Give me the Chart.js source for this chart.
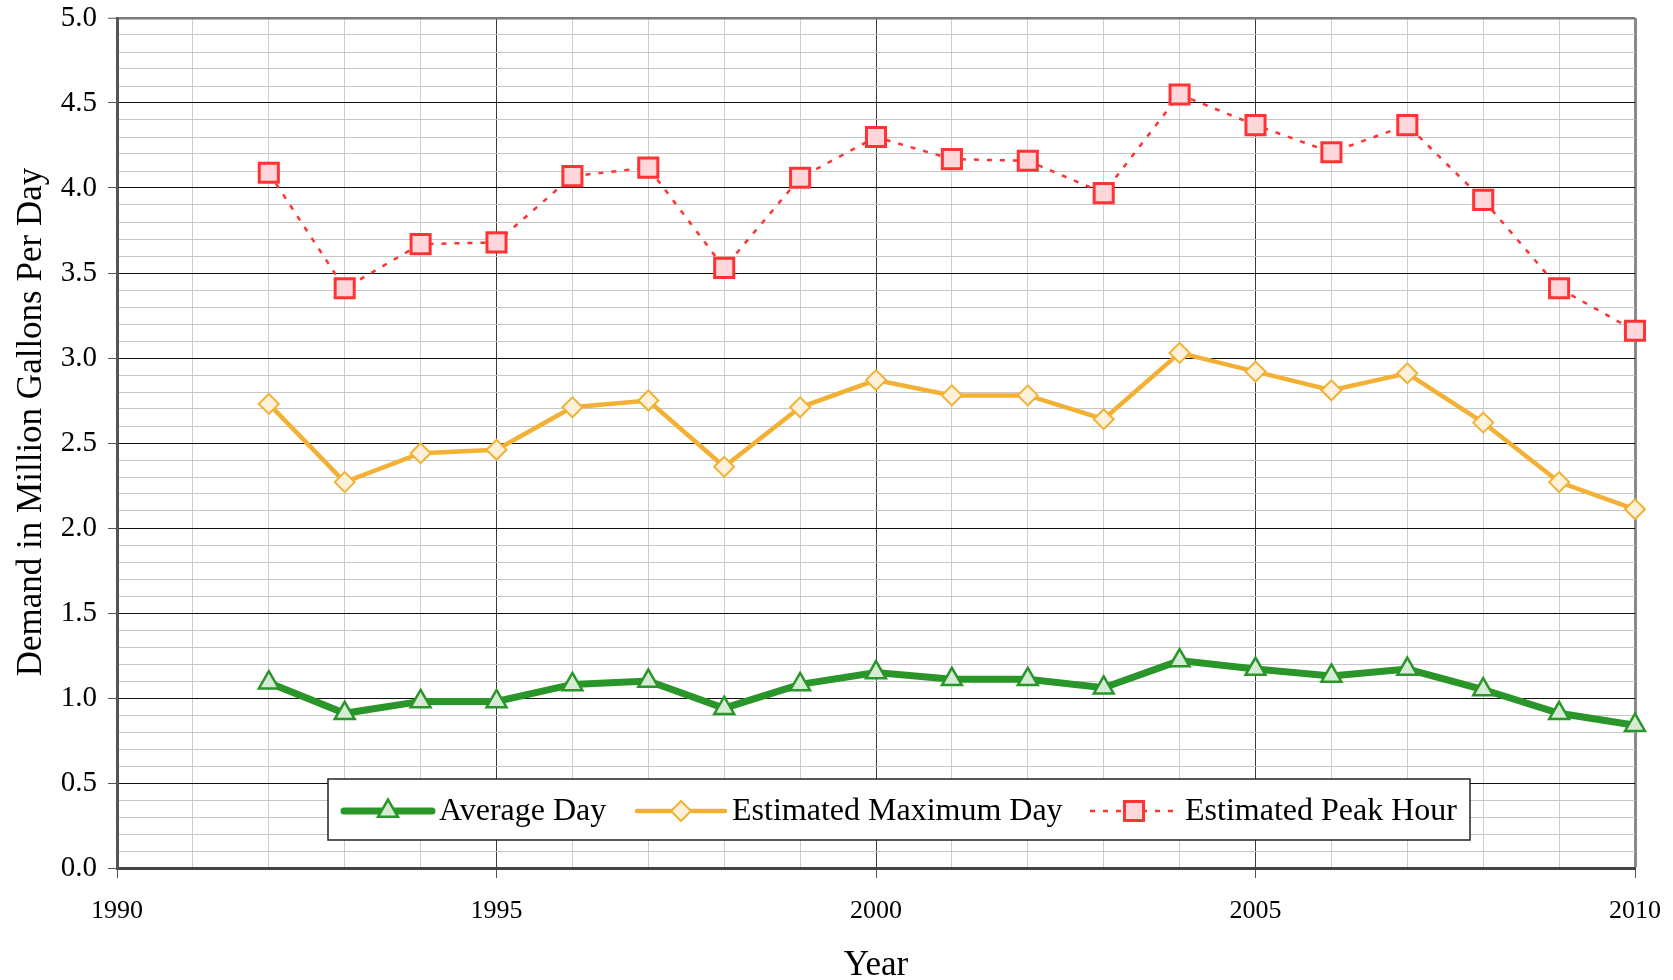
<!DOCTYPE html>
<html>
<head>
<meta charset="utf-8">
<script src="https://cdn.jsdelivr.net/npm/chart.js@4.4.1/dist/chart.umd.min.js"></script>
<style>
  html, body { margin: 0; padding: 0; background: #fff; }
  #wrap { width: 1673px; height: 980px; position: relative; }
</style>
</head>
<body>
<div id="wrap"><canvas id="grafico"></canvas></div>
<script>
// datos (millones de galones por dia)
const years = [1992, 1993, 1994, 1995, 1996, 1997, 1998, 1999, 2000, 2001,
               2002, 2003, 2004, 2005, 2006, 2007, 2008, 2009, 2010];
const averageDay = [1.09, 0.91, 0.98, 0.98, 1.08, 1.10, 0.94, 1.08, 1.15, 1.11,
                    1.11, 1.06, 1.22, 1.17, 1.13, 1.17, 1.05, 0.91, 0.84];
const maxDay = [2.73, 2.27, 2.44, 2.46, 2.71, 2.75, 2.36, 2.71, 2.87, 2.78,
                2.78, 2.64, 3.03, 2.92, 2.81, 2.91, 2.62, 2.27, 2.11];
const peakHour = [4.09, 3.41, 3.67, 3.68, 4.07, 4.12, 3.53, 4.06, 4.30, 4.17,
                  4.16, 3.97, 4.55, 4.37, 4.21, 4.37, 3.93, 3.41, 3.16];
const seriesNames = ['Average Day', 'Estimated Maximum Day', 'Estimated Peak Hour'];
const xTickLabels = [1990, 1995, 2000, 2005, 2010];
const yTickLabels = [0, 0.5, 1, 1.5, 2, 2.5, 3, 3.5, 4, 4.5, 5];
const yTitle = 'Demand in Million Gallons Per Day';

const serif = "'Liberation Serif', 'Times New Roman', serif";
Chart.defaults.font.family = serif;
Chart.defaults.color = '#000';

const isMajorY = v => yTickLabels.some(m => Math.abs(m - v) < 1e-6);
const isMajorX = v => xTickLabels.some(m => Math.abs(m - v) < 1e-6);

function puntos(valores) {
  return years.map((y, i) => ({ x: y, y: valores[i] }));
}

// dibujar un marcador con la misma geometria que Chart.js
function marcador(ctx, estilo, x, y, r) {
  ctx.beginPath();
  if (estilo === 'triangle') {
    ctx.moveTo(x, y - r);
    ctx.lineTo(x + r * 0.866, y + r / 2);
    ctx.lineTo(x - r * 0.866, y + r / 2);
  } else if (estilo === 'rectRot') {
    ctx.moveTo(x, y - r);
    ctx.lineTo(x + r, y);
    ctx.lineTo(x, y + r);
    ctx.lineTo(x - r, y);
  } else {
    const s = r * Math.SQRT1_2;
    ctx.rect(x - s, y - s, 2 * s, 2 * s);
  }
  ctx.closePath();
  ctx.fill();
  ctx.stroke();
}

// titulo del eje Y (un poco por encima del centro, como en el original)
const tituloY = {
  id: 'tituloY',
  afterDraw(chart) {
    const ctx = chart.ctx, area = chart.chartArea;
    ctx.save();
    ctx.translate(32, (area.top + area.bottom) / 2 - 21);
    ctx.rotate(-Math.PI / 2);
    ctx.fillStyle = '#000';
    ctx.font = '35px ' + serif;
    ctx.textAlign = 'center';
    ctx.textBaseline = 'middle';
    ctx.fillText(yTitle, 0, 0);
    ctx.restore();
  }
};

// leyenda dentro del area del grafico, con caja blanca
const leyendaInterna = {
  id: 'leyendaInterna',
  afterDatasetsDraw(chart) {
    const ctx = chart.ctx, area = chart.chartArea;
    const x0 = area.left + 211, y0 = area.bottom - 89, w = 1142, h = 61;
    const itemX = [16, 309, 762];
    const cy = y0 + 32;
    ctx.save();
    ctx.fillStyle = '#fff';
    ctx.fillRect(x0, y0, w, h);
    ctx.strokeStyle = '#222';
    ctx.lineWidth = 1.5;
    ctx.strokeRect(x0, y0, w, h);
    chart.data.datasets.forEach((ds, i) => {
      const lx = x0 + itemX[i];
      const largo = 88;
      ctx.strokeStyle = ds.borderColor;
      ctx.lineWidth = ds.borderWidth;
      ctx.setLineDash(ds.borderDash || []);
      ctx.lineCap = ds.borderDash ? 'butt' : 'round';
      ctx.beginPath();
      ctx.moveTo(lx, cy);
      ctx.lineTo(lx + largo, cy);
      ctx.stroke();
      ctx.setLineDash([]);
      ctx.fillStyle = ds.pointBackgroundColor;
      ctx.strokeStyle = ds.pointBorderColor;
      ctx.lineWidth = ds.pointBorderWidth;
      marcador(ctx, ds.pointStyle, lx + largo / 2, cy, ds.pointRadius);
      ctx.fillStyle = '#000';
      ctx.font = '32px ' + serif;
      ctx.textBaseline = 'middle';
      ctx.textAlign = 'left';
      ctx.fillText(ds.label, lx + largo + 7, cy + 1);
    });
    ctx.restore();
  }
};

const configuracion = {
  type: 'line',
  data: {
    datasets: [
      {
        label: seriesNames[0],
        data: puntos(averageDay),
        borderColor: '#2a962a',
        borderWidth: 7,
        pointStyle: 'triangle',
        pointRadius: 11.5,
        pointBackgroundColor: '#d5ebd5',
        pointBorderColor: '#2a962a',
        pointBorderWidth: 2.5
      },
      {
        label: seriesNames[1],
        data: puntos(maxDay),
        borderColor: '#f2b134',
        borderWidth: 4.5,
        pointStyle: 'rectRot',
        pointRadius: 10,
        pointBackgroundColor: '#fdf1d9',
        pointBorderColor: '#f2b134',
        pointBorderWidth: 2
      },
      {
        label: seriesNames[2],
        data: puntos(peakHour),
        borderColor: '#ff3333',
        borderWidth: 2.5,
        borderDash: [5, 8],
        pointStyle: 'rect',
        pointRadius: 13.5,
        pointBackgroundColor: '#ffd6da',
        pointBorderColor: '#ff3333',
        pointBorderWidth: 3
      }
    ]
  },
  options: {
    responsive: true,
    maintainAspectRatio: false,
    animation: false,
    layout: { padding: { top: 18, right: 38, left: 0, bottom: 0 } },
    elements: { line: { tension: 0 } },
    datasets: { line: { clip: false } },
    plugins: {
      legend: { display: false },
      tooltip: { enabled: false }
    },
    scales: {
      x: {
        type: 'linear',
        min: 1990,
        max: 2010,
        ticks: {
          stepSize: 1,
          autoSkip: false,
          maxRotation: 0,
          padding: 18,
          font: { size: 26 },
          callback: v => isMajorX(v) ? String(Math.round(v)) : ''
        },
        grid: {
          tickLength: 10,
          color: c => {
            const v = c.tick.value;
            if (Math.abs(v - 2010) < 1e-6) return '#8a8a8a';
            return isMajorX(v) ? '#3a3a3a' : '#cccccc';
          },
          lineWidth: c => Math.abs(c.tick.value - 2010) < 1e-6 ? 3 : 1,
          tickColor: c => isMajorX(c.tick.value) ? '#555' : 'rgba(0,0,0,0)',
          tickWidth: 1
        },
        border: { color: '#444', width: 3 },
        title: {
          display: true,
          text: 'Year',
          font: { size: 35, lineHeight: 1 },
          padding: { top: 0, bottom: -3 }
        },
        afterFit: s => {
          s.height = 112;
          s.paddingLeft = 0;
          s.paddingRight = 0;
        }
      },
      y: {
        min: 0,
        max: 5,
        ticks: {
          stepSize: 0.1,
          autoSkip: false,
          padding: 11,
          font: { size: 29 },
          callback: v => isMajorY(v) ? v.toFixed(1) : ''
        },
        grid: {
          tickLength: 9,
          color: c => {
            const v = c.tick.value;
            if (Math.abs(v - 5) < 1e-6) return '#7a7a7a';
            return isMajorY(v) ? '#111' : '#c6c6c6';
          },
          lineWidth: c => Math.abs(c.tick.value - 5) < 1e-6 ? 2.5 : 1,
          tickColor: c => isMajorY(c.tick.value) ? '#555' : 'rgba(0,0,0,0)',
          tickWidth: 1
        },
        border: { color: '#555', width: 3 },
        afterFit: s => {
          s.width = 117;
          s.paddingTop = 0;
          s.paddingBottom = 0;
        }
      }
    }
  },
  plugins: [leyendaInterna, tituloY]
};

const contexto = document.getElementById('grafico').getContext('2d');
const miGrafico = new Chart(contexto, configuracion);
</script>
</body>
</html>
